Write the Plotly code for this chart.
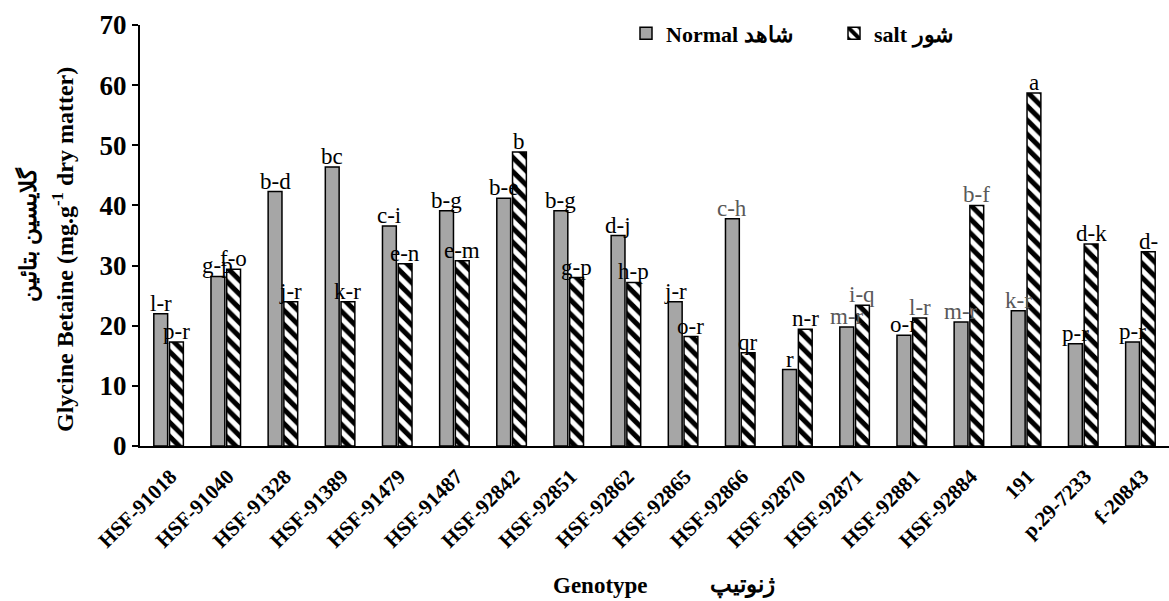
import plotly.graph_objects as go

genotypes = ["HSF-91018", "HSF-91040", "HSF-91328", "HSF-91389", "HSF-91479", "HSF-91487",
             "HSF-92842", "HSF-92851", "HSF-92862", "HSF-92865", "HSF-92866", "HSF-92870",
             "HSF-92871", "HSF-92881", "HSF-92884", "191", "p.29-7233", "f-20843"]
normal = [22.0, 28.2, 42.3, 46.4, 36.6, 39.1, 41.2, 39.1, 35.0, 24.0, 37.8, 12.7,
          19.8, 18.4, 20.6, 22.5, 17.0, 17.3]
salt = [17.3, 29.4, 24.0, 24.0, 30.3, 30.8, 48.9, 28.0, 27.2, 18.2, 15.5, 19.4,
        23.4, 21.3, 40.0, 58.7, 33.6, 32.3]
normal_letters = ["l-r", "g-p", "b-d", "bc", "c-i", "b-g", "b-e", "b-g", "d-j", "j-r", "c-h", "r",
                  "m-r", "o-r", "m-r", "k-r", "p-r", "p-r"]
salt_letters = ["p-r", "f-o", "j-r", "k-r", "e-n", "e-m", "b", "g-p", "h-p", "o-r", "qr", "n-r",
                "i-q", "l-r", "b-f", "a", "d-k", "d-"]
normal_letter_gray = [False, False, False, False, False, False, False, False, False, False, True, False,
                      True, False, True, True, False, False]
salt_letter_gray = [False, False, False, False, False, False, False, False, False, False, False, False,
                    True, True, True, False, False, False]

serif = "Liberation Serif, Times New Roman, serif"
GRAY_TXT = "#595959"

W, H = 1169, 601
ML, MR, MT, MB = 140, 0, 25, 155
plot_w = W - ML - MR
plot_h = H - MT - MB
BARGAP, GROUPGAP = 0.45, 0.12
n = len(genotypes)
cat_w = plot_w / n
slot = cat_w * (1 - BARGAP) / 2
off = slot / 2

fig = go.Figure()
fig.add_trace(go.Bar(
    x=genotypes, y=normal, name="Normal شاهد",
    marker=dict(color="#a6a6a6", line=dict(color="black", width=1.5)),
))
fig.add_trace(go.Bar(
    x=genotypes, y=salt, name="salt شور",
    marker=dict(color="white", line=dict(color="black", width=1.5),
                pattern=dict(shape="\\", fgcolor="black", bgcolor="white",
                             size=10, solidity=0.5, fillmode="replace")),
))

annotations = []
for i, (v, t, gr) in enumerate(zip(normal, normal_letters, normal_letter_gray)):
    annotations.append(dict(x=i, y=v, xref="x", yref="y", text=t, showarrow=False,
                            xanchor="center", yanchor="bottom", xshift=-off, yshift=-4,
                            font=dict(family=serif, size=23, color=GRAY_TXT if gr else "black")))
for i, (v, t, gr) in enumerate(zip(salt, salt_letters, salt_letter_gray)):
    annotations.append(dict(x=i, y=v, xref="x", yref="y", text=t, showarrow=False,
                            xanchor="center", yanchor="bottom", xshift=off, yshift=-4,
                            font=dict(family=serif, size=23, color=GRAY_TXT if gr else "black")))

# y-axis title (two lines)
annotations.append(dict(x=(28 - ML) / plot_w, y=1 - (235 - MT) / plot_h, xref="paper", yref="paper",
                        text="گلايسين بتائين", textangle=-90, showarrow=False,
                        xanchor="center", yanchor="middle",
                        font=dict(family=serif, size=23, color="black", weight="bold")))
annotations.append(dict(x=(63 - ML) / plot_w, y=1 - (250 - MT) / plot_h, xref="paper", yref="paper",
                        text="Glycine Betaine (mg.g<sup>-1</sup> dry matter)", textangle=-90,
                        showarrow=False, xanchor="center", yanchor="middle",
                        font=dict(family=serif, size=24, color="black", weight="bold")))
# x-axis title
annotations.append(dict(x=(600 - ML) / plot_w, y=1 - (585 - MT) / plot_h, xref="paper", yref="paper",
                        text="Genotype", showarrow=False, xanchor="center", yanchor="middle",
                        font=dict(family=serif, size=23, color="black", weight="bold")))
annotations.append(dict(x=(742 - ML) / plot_w, y=1 - (585 - MT) / plot_h, xref="paper", yref="paper",
                        text="ژنوتيپ", showarrow=False, xanchor="center", yanchor="middle",
                        font=dict(family=serif, size=23, color="black", weight="bold")))

fig.update_layout(
    width=W, height=H,
    margin=dict(l=ML, r=MR, t=MT, b=MB),
    paper_bgcolor="white", plot_bgcolor="white",
    barmode="group", bargap=BARGAP, bargroupgap=GROUPGAP,
    font=dict(family=serif, color="black"),
    legend=dict(orientation="h", x=(626 - ML) / plot_w, y=1.03, xanchor="left", yanchor="top",
                font=dict(family=serif, size=22, color="black", weight="bold"),
                bgcolor="rgba(0,0,0,0)", itemwidth=30,
                entrywidth=163, entrywidthmode="pixels"),
    showlegend=True,
    annotations=annotations,
)
fig.update_yaxes(
    range=[0, 70], dtick=10, tick0=0,
    showline=True, linecolor="black", linewidth=2,
    ticks="outside", ticklen=6, tickwidth=2, tickcolor="black",
    showgrid=False, zeroline=False,
    tickfont=dict(family=serif, size=27, color="black", weight="bold"),
)
fig.update_xaxes(
    type="category", categoryorder="array", categoryarray=genotypes,
    range=[-0.5, n - 0.5], autorange=False,
    showline=True, linecolor="black", linewidth=2,
    ticks="", showgrid=False,
    tickangle=-45, ticklabelstandoff=8, ticklabelshift=2,
    tickfont=dict(family=serif, size=21, color="black", weight="bold"),
)

fig.write_html("out.html", config={"displayModeBar": False},
               post_script="document.body.style.margin='0';document.body.style.overflow='hidden';")
